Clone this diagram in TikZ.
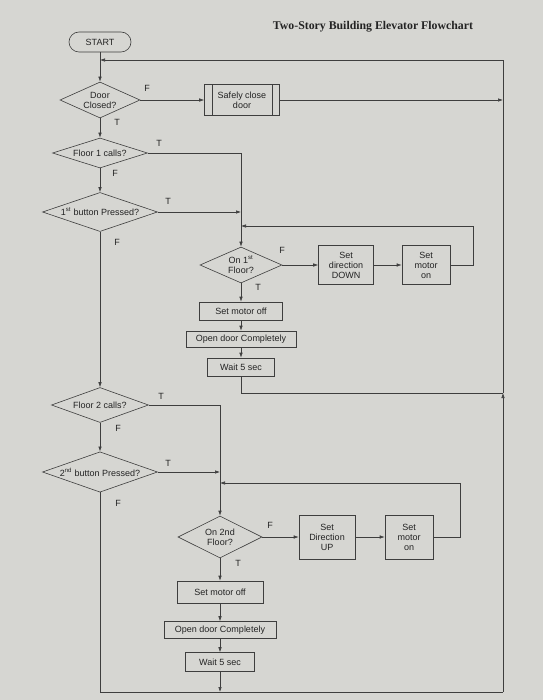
\documentclass[tikz,border=0pt]{standalone}
\usepackage{fontspec}
\setmainfont{Liberation Sans}
\newfontfamily\titlefont{Liberation Serif}
\usetikzlibrary{shapes.geometric,arrows.meta}
\definecolor{paper}{RGB}{214,214,210}
\definecolor{ink}{RGB}{62,62,62}
\definecolor{txt}{RGB}{35,35,35}
\begin{document}
\begin{tikzpicture}[x=1pt,y=-1pt,
 every node/.style={text=txt, font=\fontsize{9}{10}\selectfont},
 box/.style={draw=ink, line width=0.6pt, align=center, inner sep=1pt},
 dec/.style={draw=ink, line width=0.6pt, diamond, aspect=2.5, inner sep=0pt, align=center},
 arr/.style={draw=ink, line width=0.6pt, -{Latex[length=5pt,width=3.5pt]}},
 ln/.style={draw=ink, line width=0.6pt},
 lab/.style={font=\fontsize{9}{10}\selectfont}]
\fill[paper] (0,0) rectangle (543,700);
\useasboundingbox (0,0) rectangle (543,700);

% title
\node[font=\titlefont\bfseries\fontsize{11.8}{13}\selectfont] (title) at (373,27) {Two-Story Building Elevator Flowchart};

% first half
\node[box, rounded corners=10pt, minimum width=62pt, minimum height=20pt] (start) at (100,42) {START};
\node[dec, minimum width=80pt, minimum height=36pt] (door) at (100,100) {Door\\Closed?};
\node[box, minimum width=75pt, minimum height=31pt] (safe) at (242,100) {Safely close\\door};
\draw[ln] ([xshift=8pt]safe.north west) -- ([xshift=8pt]safe.south west);
\draw[ln] ([xshift=-8pt]safe.north east) -- ([xshift=-8pt]safe.south east);
\node[dec, minimum width=95pt, minimum height=30pt] (f1) at (100,153) {Floor 1 calls?};
\node[dec, minimum width=115pt, minimum height=36pt] (b1) at (100,212) {1\textsuperscript{st} button Pressed?};
\node[dec, minimum width=82pt, minimum height=36pt] (on1) at (241,265) {On 1\textsuperscript{st}\\Floor?};
\node[box, minimum width=55pt, minimum height=39pt] (down) at (346,265) {Set\\direction\\DOWN};
\node[box, minimum width=48pt, minimum height=39pt] (mon1) at (426,265) {Set\\motor\\on};
\node[box, minimum width=83pt, minimum height=18pt] (moff1) at (241,311) {Set motor off};
\node[box, minimum width=110pt, minimum height=16pt] (open1) at (241,339) {Open door Completely};
\node[box, minimum width=67pt, minimum height=18pt] (wait1) at (241,367) {Wait 5 sec};

% second half
\node[dec, minimum width=97pt, minimum height=35pt] (f2) at (100,405) {Floor 2 calls?};
\node[dec, minimum width=115pt, minimum height=37pt] (b2) at (100,472) {2\textsuperscript{nd} button Pressed?};
\node[dec, minimum width=84pt, minimum height=42pt] (on2) at (220,537) {On 2nd\\Floor?};
\node[box, minimum width=56pt, minimum height=44pt] (up) at (327,537) {Set\\Direction\\UP};
\node[box, minimum width=48pt, minimum height=44pt] (mon2) at (409,537) {Set\\motor\\on};
\node[box, minimum width=86pt, minimum height=22pt] (moff2) at (220,592) {Set motor off};
\node[box, minimum width=112pt, minimum height=17pt] (open2) at (220,630) {Open door Completely};
\node[box, minimum width=69pt, minimum height=19pt] (wait2) at (220,662) {Wait 5 sec};

% coordinates
\coordinate (tl) at (100,60);
\coordinate (tr) at (503,60);
\coordinate (j0) at (503,100);
\coordinate (j1) at (503,393);
\coordinate (br) at (503,692);
\coordinate (bl) at (100,692);
\coordinate (bm) at (220,692);
\coordinate (lp1) at (473,226);
\coordinate (lp2) at (460,483);

% connectors, first half
\draw[arr] (start.south) -- (door.north);
\draw[arr] (door.east) -- (safe.west);
\draw[arr] (safe.east) -- (j0);
\draw[arr] (door.south) -- (f1.north);
\draw[arr] (f1.south) -- (b1.north);
\draw[arr] (f1.east) -| (on1.north);
\draw[arr] (b1.east) -- (b1.east -| on1.north);
\draw[arr] (mon1.east) -| (lp1) -- (lp1 -| on1.north);
\draw[arr] (on1.east) -- (down.west);
\draw[arr] (down.east) -- (mon1.west);
\draw[arr] (on1.south) -- (moff1.north);
\draw[arr] (moff1.south) -- (open1.north);
\draw[arr] (open1.south) -- (wait1.north);
\draw[ln] (wait1.south) |- (j1);

% connectors, second half
\draw[arr] (b1.south) -- (f2.north);
\draw[arr] (f2.south) -- (b2.north);
\draw[arr] (f2.east) -| (on2.north);
\draw[arr] (b2.east) -- (b2.east -| on2.north);
\draw[arr] (mon2.east) -| (lp2) -- (lp2 -| on2.north);
\draw[arr] (on2.east) -- (up.west);
\draw[arr] (up.east) -- (mon2.west);
\draw[arr] (on2.south) -- (moff2.north);
\draw[arr] (moff2.south) -- (open2.north);
\draw[arr] (open2.south) -- (wait2.north);
\draw[arr] (wait2.south) -- (bm);

% return loop
\draw[ln] (b2.south) -- (bl) -- (br);
\draw[arr] (br) -- (j1);
\draw[ln] (j1) -- (tr);
\draw[arr] (tr) -- (tl);

% labels
\node[lab] (l1) at (147,88) {F};
\node[lab] (l2) at (117,122) {T};
\node[lab] (l3) at (159,143) {T};
\node[lab] (l4) at (115,173) {F};
\node[lab] (l5) at (168,201) {T};
\node[lab] (l6) at (117,242) {F};
\node[lab] (l7) at (282,250) {F};
\node[lab] (l8) at (258,287) {T};
\node[lab] (l9) at (161,396) {T};
\node[lab] (l10) at (118,428) {F};
\node[lab] (l11) at (168,463) {T};
\node[lab] (l12) at (118,503) {F};
\node[lab] (l13) at (270,525) {F};
\node[lab] (l14) at (238,563) {T};
\end{tikzpicture}
\end{document}
